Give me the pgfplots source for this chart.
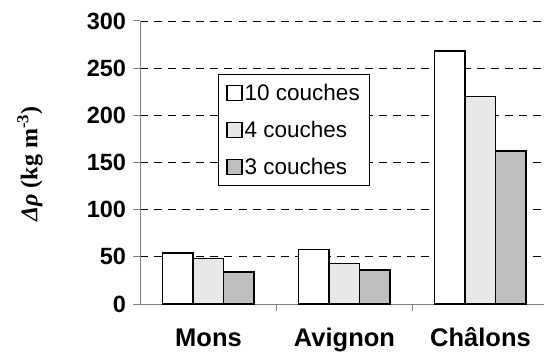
\documentclass[border=0pt]{standalone}
\usepackage{pgfplots}
\pgfplotsset{compat=1.18}
\usepackage{fontspec}
\setmainfont{Liberation Sans}
\newfontfamily\timesfont{Liberation Serif}

\definecolor{lightdot}{HTML}{E8E8E8}
\definecolor{darkdot}{HTML}{BEBEBE}
\definecolor{axisgray}{HTML}{808080}

\begin{document}
\begin{tikzpicture}
\path[use as bounding box] (-140.5bp,-48bp) rectangle (403.5bp,304bp);
\begin{axis}[
  at={(0,0)}, anchor=south west,
  scale only axis,
  width=403.5bp, height=283bp,
  xmin=0, xmax=2.967,
  ymin=0, ymax=300,
  ybar=0pt, bar width=30.5bp,
  axis x line=bottom, axis y line=left,
  axis line style={axisgray, line width=1bp, -},
  xtick={0.5,1.5,2.5},
  xticklabels={Mons,Avignon,Ch\^alons},
  major x tick style={draw=none},
  minor xtick={1,2},
  minor x tick style={axisgray, line width=1bp},
  minor tick length=7bp,
  ytick={0,50,...,300},
  y tick style={axisgray, line width=1bp},
  major tick length=7bp,
  tick align=outside,
  ymajorgrids,
  grid style={black, dash pattern=on 8bp off 6bp, line width=0.8bp},
  /pgf/number format/assume math mode=true,
  yticklabel style={font=\fontsize{23.5bp}{27bp}\selectfont\bfseries, xshift=-4bp},
  xticklabel style={font=\fontsize{25.5bp}{29bp}\selectfont\bfseries, yshift=-13bp,
    text height=19bp, text depth=6bp},
  legend style={at={(axis cs:0.57,244)}, anchor=north west,
    draw=black, line width=0.8bp, fill=white,
    font=\fontsize{22.5bp}{26bp}\selectfont,
    row sep=15bp, inner xsep=8bp, inner ysep=8bp,
    legend cell align=left},
  legend image code/.code={\draw[#1, line width=1.3bp] (0bp,-7.5bp) rectangle (15bp,7.5bp);},
]
\addplot[draw=black, fill=white, line width=1.5bp] coordinates {(0.5,54) (1.5,58) (2.5,268)};
\addplot[draw=black, fill=lightdot, line width=1.5bp] coordinates {(0.5,48) (1.5,43) (2.5,220)};
\addplot[draw=black, fill=darkdot, line width=1.5bp] coordinates {(0.5,34) (1.5,36) (2.5,162)};
\legend{10 couches, 4 couches, 3 couches}
\end{axis}
\node[rotate=90, font=\fontsize{24bp}{28bp}\selectfont\timesfont\bfseries] at (-110.5bp,140bp) {{\itshape Δρ} (kg m\textsuperscript{-3})};
\end{tikzpicture}
\end{document}
